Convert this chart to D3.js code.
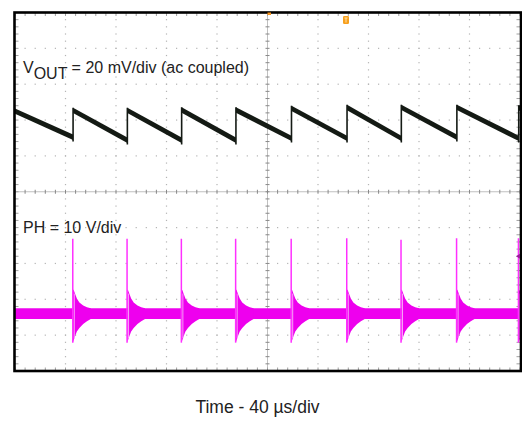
<!DOCTYPE html>
<html>
<head>
<meta charset="utf-8">
<script src="https://cdn.jsdelivr.net/npm/d3@7"></script>
<style>
  body { margin: 0; background: #fff; }
  svg { display: block; font-family: "Liberation Sans", Arial, sans-serif; }
</style>
</head>
<body>
<div id="chart"></div>
<script>
const w = 522;
const h = 425;
const plotLeft = 15, plotRight = 520, plotTop = 12.5, plotBottom = 371;

// switching events, µs from the left edge of the screen
const switchTimes = [46, 89, 132, 175, 219, 263, 306, 350, 399];
// VOUT ripple (mV, ac coupled)
const voutStart = 7;
const voutPeaks = [7.4, 7.4, 7.6, 7.6, 8.5, 9, 9.1, 9.1, 8.8];
const voutTroughs = [-7.6, -9.3, -9.3, -9.3, -8.2, -8.2, -8.2, -7.6, -8.2];
const voutNoise = 1.5;
// PH node (V)
const phSpikeHigh = [20.9, 20.9, 20.9, 20.9, 20.9, 21, 20.6, 21, 21];
const phSpikeLow = [-8.1, -8.1, -8.1, -8.1, -8.1, -8.1, -8.1, -8.1, -8.1];
const phNoise = 1.5;
const ringOffsets = [0, 0.5, 1.5, 3, 5, 8, 11, 14];
const ringUpper = [6.7, 6.6, 5.6, 4.2, 3.1, 2.3, 1.8, 1.5];
const ringLower = [-8, -7.4, -6.4, -5, -4, -2.9, -2.1, -1.5];

const voutOffsetDiv = 1.9;
const phOffsetDiv = -3.4;

const svg = d3.select('#chart').append('svg')
  .attr('width', w).attr('height', h);

const x = d3.scaleLinear().domain([0, 400]).range([plotLeft, plotRight]);
const yDiv = d3.scaleLinear().domain([-5, 5]).range([plotBottom, plotTop]);
const yVout = mv => yDiv(voutOffsetDiv + mv / 20);
const yPh = v => yDiv(phOffsetDiv + v / 10);

// grid
const grid = svg.append('g');
const xGrid = d3.range(40, 400, 40).filter(d => d !== 200);
const yGrid = d3.range(-4, 5).filter(d => d !== 0);
xGrid.forEach(t => {
  grid.selectAll(null).data(d3.range(-5, 5.01, 0.2)).enter().append('rect')
    .attr('x', x(t) - 0.6).attr('y', d => yDiv(d) - 0.6)
    .attr('width', 1.2).attr('height', 1.2).attr('fill', '#b4b4b4');
});
yGrid.forEach(v => {
  grid.selectAll(null).data(d3.range(0, 400.1, 8)).enter().append('rect')
    .attr('x', d => x(d) - 0.6).attr('y', yDiv(v) - 0.6)
    .attr('width', 1.2).attr('height', 1.2).attr('fill', '#b4b4b4');
});
grid.append('line').attr('x1', x(200)).attr('x2', x(200)).attr('y1', plotTop).attr('y2', plotBottom)
  .attr('stroke', '#c0c0c0').attr('stroke-width', 1);
grid.append('line').attr('x1', plotLeft).attr('x2', plotRight).attr('y1', yDiv(0)).attr('y2', yDiv(0))
  .attr('stroke', '#c0c0c0').attr('stroke-width', 1);
grid.selectAll('.vtick').data(d3.range(-5, 5.01, 0.2)).enter().append('line')
  .attr('x1', x(200) - 2).attr('x2', x(200) + 2)
  .attr('y1', d => yDiv(d)).attr('y2', d => yDiv(d))
  .attr('stroke', '#888');
grid.selectAll('.htick').data(d3.range(0, 400.1, 8)).enter().append('line')
  .attr('x1', d => x(d)).attr('x2', d => x(d))
  .attr('y1', yDiv(0) - 2).attr('y2', yDiv(0) + 2)
  .attr('stroke', '#888');
// edge ticks
const edgeY = d3.range(-5, 5.01, 0.2);
const edgeX = d3.range(0, 400.1, 8);
grid.selectAll('.el').data(edgeY).enter().append('line')
  .attr('x1', plotLeft).attr('x2', plotLeft + 3.5).attr('y1', d => yDiv(d)).attr('y2', d => yDiv(d))
  .attr('stroke', '#a0a0a0');
grid.selectAll('.er').data(edgeY).enter().append('line')
  .attr('x1', plotRight - 3.5).attr('x2', plotRight).attr('y1', d => yDiv(d)).attr('y2', d => yDiv(d))
  .attr('stroke', '#a0a0a0');
grid.selectAll('.et').data(edgeX).enter().append('line')
  .attr('x1', d => x(d)).attr('x2', d => x(d)).attr('y1', plotTop).attr('y2', plotTop + 3.5)
  .attr('stroke', '#a0a0a0');
grid.selectAll('.eb').data(edgeX).enter().append('line')
  .attr('x1', d => x(d)).attr('x2', d => x(d)).attr('y1', plotBottom - 3.5).attr('y2', plotBottom)
  .attr('stroke', '#a0a0a0');

svg.append('clipPath').attr('id', 'plot')
  .append('rect').attr('x', plotLeft).attr('y', plotTop)
  .attr('width', plotRight - plotLeft).attr('height', plotBottom - plotTop);
const traces = svg.append('g').attr('clip-path', 'url(#plot)');

// VOUT ramps
const ramps = [];
switchTimes.forEach((t, i) => {
  const t0 = i === 0 ? 0 : switchTimes[i - 1];
  const v0 = i === 0 ? voutStart : voutPeaks[i - 1];
  ramps.push([{ t: t0, v: v0 }, { t: t, v: voutTroughs[i] }]);
});
const lastT = switchTimes[switchTimes.length - 1];
const lastV = voutPeaks[voutPeaks.length - 1];
ramps.push([{ t: lastT, v: lastV }, { t: 400, v: lastV - 0.2 }]);

const voutArea = d3.area()
  .x(d => x(d.t))
  .y0(d => yVout(d.v - voutNoise))
  .y1(d => yVout(d.v + voutNoise));
traces.selectAll('.ramp').data(ramps).enter().append('path')
  .attr('d', voutArea).attr('fill', '#141a14');
traces.selectAll('.jump').data(switchTimes).enter().append('line')
  .attr('x1', d => x(d)).attr('x2', d => x(d))
  .attr('y1', (d, i) => yVout(voutTroughs[i] - voutNoise - 0.8))
  .attr('y2', (d, i) => yVout(voutPeaks[i] + voutNoise))
  .attr('stroke', '#141a14').attr('stroke-width', 1.6);

// PH
const magenta = '#ee00ee';
traces.append('rect')
  .attr('x', plotLeft).attr('width', plotRight - plotLeft)
  .attr('y', yPh(phNoise)).attr('height', yPh(-phNoise) - yPh(phNoise))
  .attr('fill', magenta);
const ringArea = d3.area()
  .x(d => x(d.t))
  .y0(d => yPh(d.lo))
  .y1(d => yPh(d.hi));
switchTimes.forEach((t, i) => {
  const ring = ringOffsets.map((o, j) => ({ t: t + o, hi: ringUpper[j], lo: ringLower[j] }));
  traces.append('path').datum(ring).attr('d', ringArea).attr('fill', magenta);
  traces.append('line')
    .attr('x1', x(t) + 1.2).attr('x2', x(t) + 1.2)
    .attr('y1', yPh(ringUpper[1] - 1)).attr('y2', yPh(ringLower[1] + 0.5))
    .attr('stroke', '#f6b8f6').attr('stroke-width', 0.9);
  traces.append('line')
    .attr('x1', x(t) - 0.3).attr('x2', x(t) - 0.3)
    .attr('y1', yPh(phSpikeHigh[i])).attr('y2', yPh(phSpikeLow[i]))
    .attr('stroke', '#ff30ff').attr('stroke-width', 1.5);
});

// frame
svg.append('rect')
  .attr('x', plotLeft - 0.5).attr('y', plotTop)
  .attr('width', plotRight - plotLeft + 1.5).attr('height', plotBottom - plotTop)
  .attr('fill', 'none').attr('stroke', '#000').attr('stroke-width', 2.6);

// markers
svg.append('rect').attr('x', x(200)).attr('y', plotTop).attr('width', 3.5).attr('height', 2.5)
  .attr('fill', '#f7941d');
svg.append('rect').attr('x', 343).attr('y', 16).attr('width', 6).attr('height', 8).attr('rx', 1.2)
  .attr('fill', '#f7a01e');
svg.append('path').attr('d', 'M344.5,18h3M346,18v4.5')
  .attr('stroke', '#fde0a8').attr('stroke-width', 1);
svg.append('path').attr('d', `M${plotRight - 4},${yPh(16)} l4,-2.5 v5 z`)
  .attr('fill', '#9a1c9a');

// labels
const label = svg.append('text').attr('x', 23).attr('y', 73)
  .attr('font-size', 16).attr('fill', '#222');
label.append('tspan').text('V');
label.append('tspan').attr('dy', 6).text('OUT');
label.append('tspan').attr('dy', -6).text(' = 20 mV/div (ac coupled)');

svg.append('text').attr('x', 23).attr('y', 233)
  .attr('font-size', 16).attr('fill', '#222').text('PH = 10 V/div');

svg.append('text').attr('x', 257.5).attr('y', 413)
  .attr('text-anchor', 'middle').attr('font-size', 17.5).attr('fill', '#222')
  .text('Time - 40 µs/div');
</script>
</body>
</html>
